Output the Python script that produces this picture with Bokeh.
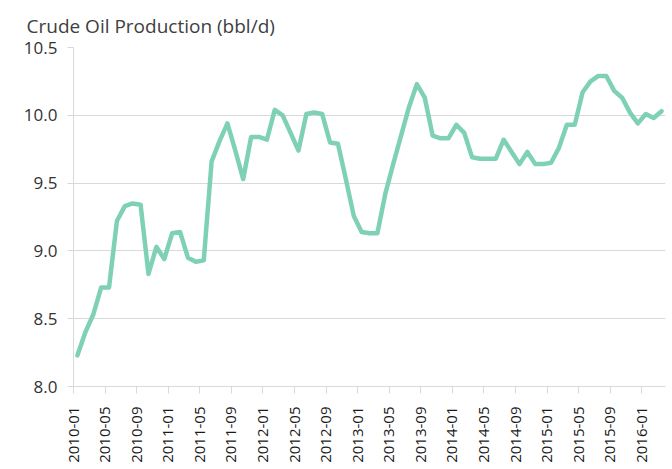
from bokeh.plotting import figure
from bokeh.models import FixedTicker, Range1d, ColumnDataSource
from bokeh.embed import file_html
from bokeh.resources import INLINE

# Monthly crude oil production, 2010-01 .. 2016-03 (bbl/d, millions)
production = [
    8.23, 8.40, 8.53, 8.73, 8.73, 9.22, 9.33, 9.35, 9.34, 8.83, 9.03, 8.94,   # 2010
    9.13, 9.14, 8.95, 8.92, 8.93, 9.66, 9.81, 9.94, 9.74, 9.53, 9.84, 9.84,   # 2011
    9.82, 10.04, 10.00, 9.87, 9.74, 10.01, 10.02, 10.01, 9.80, 9.79, 9.53, 9.26,  # 2012
    9.14, 9.13, 9.13, 9.42, 9.64, 9.85, 10.06, 10.23, 10.13, 9.85, 9.83, 9.83,  # 2013
    9.93, 9.87, 9.69, 9.68, 9.68, 9.68, 9.82, 9.73, 9.64, 9.73, 9.64, 9.64,   # 2014
    9.65, 9.76, 9.93, 9.93, 10.17, 10.25, 10.29, 10.29, 10.18, 10.13, 10.02, 9.94,  # 2015
    10.01, 9.98, 10.03,   # 2016
]
tick_labels = [
    "2010-01", "2010-05", "2010-09", "2011-01", "2011-05", "2011-09",
    "2012-01", "2012-05", "2012-09", "2013-01", "2013-05", "2013-09",
    "2014-01", "2014-05", "2014-09", "2015-01", "2015-05", "2015-09",
    "2016-01",
]
y_ticks = [8.0, 8.5, 9.0, 9.5, 10.0, 10.5]
title_text = "Crude Oil Production (bbl/d)"

n = len(production)
# category centres sit between tick marks (Excel-style category axis)
xs = [i + 0.5 for i in range(n)]
tick_pos = [i * 4 for i in range(len(tick_labels))]

FONT = "Open Sans"
TEXT = "#404040"
GRID = "#d9d9d9"

p = figure(width=668, height=466, output_backend="svg", toolbar_location=None,
           x_range=Range1d(0, n), y_range=Range1d(8.0, 10.5),
           min_border_left=73, min_border_right=3, min_border_top=47,
           min_border_bottom=80)

p.title.text = title_text
p.title.text_font = FONT
p.title.text_font_size = "19px"
p.title.text_font_style = "normal"
p.title.text_color = TEXT
p.title.align = "left"
p.title.offset = -47
p.title.standoff = 17

p.outline_line_color = None
p.background_fill_color = "white"
p.border_fill_color = "white"

src = ColumnDataSource(dict(x=xs, y=production))
p.line("x", "y", source=src, line_color="#7fd1b5", line_width=4.5,
       line_join="round", line_cap="round")

# y axis
p.yaxis.ticker = FixedTicker(ticks=y_ticks)
p.yaxis.major_label_overrides = {t: f"{t:.1f}" for t in y_ticks}
p.yaxis.axis_line_color = GRID
p.yaxis.major_tick_line_color = GRID
p.yaxis.major_tick_out = 6
p.yaxis.major_tick_in = 0
p.yaxis.minor_tick_line_color = None
p.yaxis.major_label_text_font = FONT
p.yaxis.major_label_text_font_size = "17px"
p.yaxis.major_label_text_color = "#333333"
p.yaxis.major_label_standoff = 10

# x axis
p.xaxis.ticker = FixedTicker(ticks=tick_pos)
p.xaxis.major_label_overrides = {t: lab for t, lab in zip(tick_pos, tick_labels)}
p.xaxis.major_label_orientation = 1.5707963
p.xaxis.axis_line_color = GRID
p.xaxis.major_tick_line_color = GRID
p.xaxis.major_tick_out = 7
p.xaxis.major_tick_in = 0
p.xaxis.minor_tick_line_color = None
p.xaxis.major_label_text_font = FONT
p.xaxis.major_label_text_font_size = "15px"
p.xaxis.major_label_text_color = "#1a1a1a"
p.xaxis.major_label_standoff = 13

p.xgrid.grid_line_color = None
p.ygrid.grid_line_color = GRID
p.ygrid.ticker = FixedTicker(ticks=y_ticks)

open("out.html", "w").write(file_html(p, INLINE))
